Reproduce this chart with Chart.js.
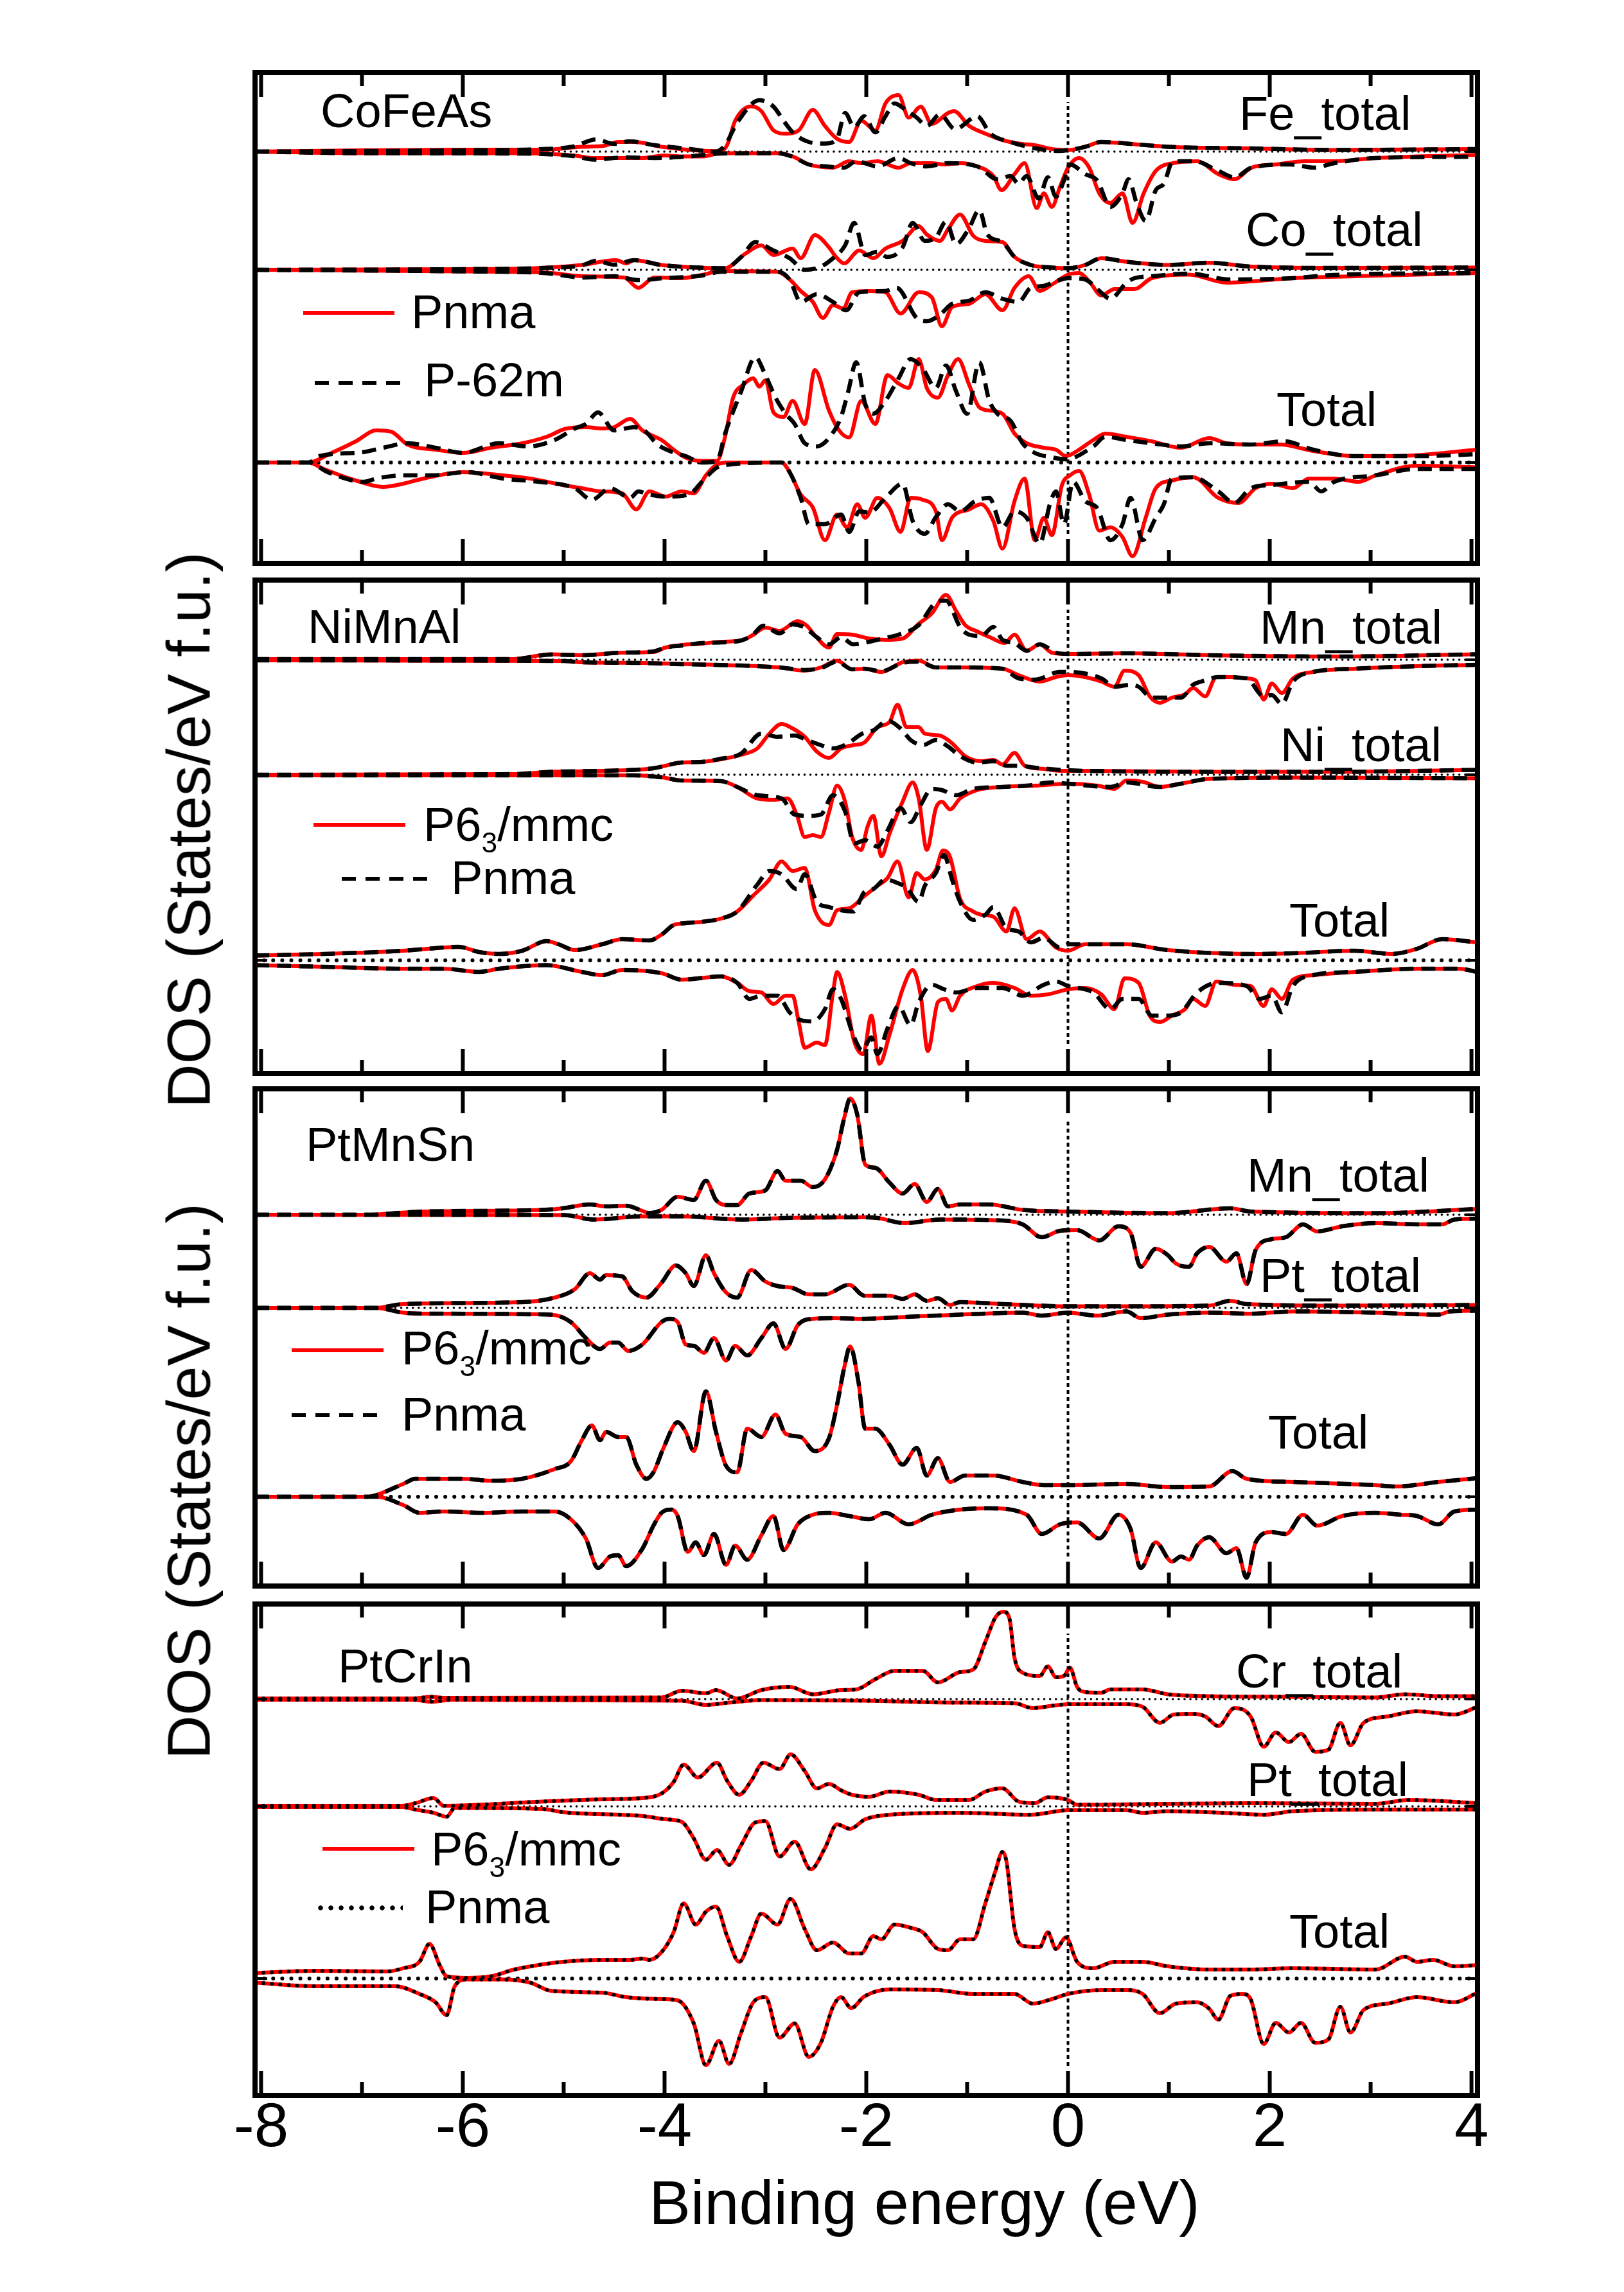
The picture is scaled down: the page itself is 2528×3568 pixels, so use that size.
<!DOCTYPE html>
<html>
<head>
<meta charset="utf-8">
<script src="https://cdn.jsdelivr.net/npm/chart.js@4.4.1/dist/chart.umd.min.js"></script>
<style>
  html, body { margin: 0; padding: 0; background: #fff; }
  body { position: relative; width: 2528px; height: 3568px; overflow: hidden;
         font-family: "Liberation Sans", Arial, sans-serif; color: #000; }
  .box { position: absolute; }
  .txt { position: absolute; font-size: 74px; line-height: 1; white-space: nowrap; }
  .txt sub { font-size: 0.6em; vertical-align: baseline; position: relative; top: 0.4em; }
  .smp { position: absolute; height: 6px; }
  .red { background: #ff0000; }
  .dash { background: repeating-linear-gradient(90deg, #000 0 22px, transparent 22px 37px); }
  .dots { height: 8px; background: radial-gradient(circle, #000 3.4px, transparent 4px) 0 0 / 16px 8px repeat-x; }
  .big { position: absolute; font-size: 96px; line-height: 1; white-space: nowrap; }
  .ytitle { transform: translate(-50%, -50%) rotate(-90deg); }
</style>
</head>
<body>

<!-- panel 1 -->
<div class="txt" style="left:499px;top:136px">CoFeAs</div>
<div class="txt" style="left:1929px;top:140px">Fe_total</div>
<div class="txt" style="left:1939px;top:321px">Co_total</div>
<div class="txt" style="left:1987px;top:601px">Total</div>
<div class="smp red" style="left:472px;top:484px;width:142px"></div>
<div class="txt" style="left:640px;top:449px">Pnma</div>
<div class="smp dash" style="left:490px;top:593px;width:141px"></div>
<div class="txt" style="left:660px;top:555px">P-62m</div>

<!-- panel 2 -->
<div class="txt" style="left:479px;top:939px">NiMnAl</div>
<div class="txt" style="left:1961px;top:940px">Mn_total</div>
<div class="txt" style="left:1993px;top:1123px">Ni_total</div>
<div class="txt" style="left:2007px;top:1396px">Total</div>
<div class="smp red" style="left:488px;top:1281px;width:143px"></div>
<div class="txt" style="left:659px;top:1247px">P6<sub>3</sub>/mmc</div>
<div class="smp dash" style="left:532px;top:1365px;width:136px"></div>
<div class="txt" style="left:702px;top:1330px">Pnma</div>

<!-- panel 3 -->
<div class="txt" style="left:476px;top:1745px">PtMnSn</div>
<div class="txt" style="left:1941px;top:1793px">Mn_total</div>
<div class="txt" style="left:1961px;top:1949px">Pt_total</div>
<div class="txt" style="left:1974px;top:2193px">Total</div>
<div class="smp red" style="left:454px;top:2099px;width:143px"></div>
<div class="txt" style="left:625px;top:2062px">P6<sub>3</sub>/mmc</div>
<div class="smp dash" style="left:454px;top:2200px;width:139px"></div>
<div class="txt" style="left:625px;top:2165px">Pnma</div>

<!-- panel 4 -->
<div class="txt" style="left:526px;top:2557px">PtCrIn</div>
<div class="txt" style="left:1924px;top:2565px">Cr_total</div>
<div class="txt" style="left:1941px;top:2734px">Pt_total</div>
<div class="txt" style="left:2007px;top:2970px">Total</div>
<div class="smp red" style="left:502px;top:2875px;width:143px"></div>
<div class="txt" style="left:671px;top:2842px">P6<sub>3</sub>/mmc</div>
<div class="smp dots" style="left:491px;top:2966px;width:136px"></div>
<div class="txt" style="left:662px;top:2932px">Pnma</div>

<!-- axis titles -->
<div class="big ytitle" style="left:294px;top:1292px;font-size:95px">DOS (States/eV f.u.)</div>
<div class="big ytitle" style="left:294px;top:2306px;font-size:95px">DOS (States/eV f.u.)</div>
<div class="big" style="left:1439px;top:3380px;font-size:97px;transform:translateX(-50%)">Binding energy (eV)</div>

<script>
// ---------------------------------------------------------------
// Energy axis
// ---------------------------------------------------------------
const xMin = -8.06;
const xMax = 4.06;
const majorTicks = [-8, -6, -4, -2, 0, 2, 4];
const minorTicks = [-7, -5, -3, -1, 1, 3];

// DOS curves: [energy (eV), DOS] pairs, spin-down stored as magnitude

// ---- CoFeAs : red = Pnma, black = P-62m ----
const feUpPnma = [[-8.06,0],[-7,0.2],[-6,0.3],[-5.2,0.3],[-4.82,0.75],[-4.6,0.9],[-4.46,1.5],[-4.3,1.5],[-4.03,0.75],[-3.7,0.2],[-3.45,0.05],[-3.38,1.0],[-3.30,4.8],[-3.14,7.05],[-3.04,6.3],[-2.92,3.3],[-2.80,2.8],[-2.67,3.3],[-2.53,6.5],[-2.41,4.0],[-2.29,2.0],[-2.17,1.5],[-2.05,4.8],[-1.91,3.3],[-1.81,7.5],[-1.68,8.8],[-1.58,5.3],[-1.46,7.0],[-1.35,4.3],[-1.19,6.0],[-1.13,6.3],[-0.98,4.0],[-0.82,2.8],[-0.65,1.8],[-0.49,1.25],[-0.33,1.0],[-0.16,0.4],[0,0.25],[0.17,0.75],[0.33,1.5],[0.58,1.25],[0.99,0.75],[1.81,0.5],[2.64,0.25],[4.06,0.4]];
const feDnPnma = [[-8.06,0],[-7,0.25],[-5.5,0.25],[-4.9,0.6],[-4.70,1.0],[-4.22,1.0],[-4.0,0.6],[-3.83,0.75],[-3.63,0.75],[-3.44,0.25],[-2.88,0.25],[-2.73,0.75],[-2.57,2.0],[-2.33,2.5],[-2.17,1.5],[-2.05,1.8],[-1.89,1.5],[-1.68,2.5],[-1.56,1.8],[-1.35,1.8],[-1.23,2.0],[-1.07,1.8],[-0.90,2.3],[-0.74,3.8],[-0.66,6.0],[-0.53,3.5],[-0.43,1.8],[-0.31,8.8],[-0.24,6.5],[-0.16,8.6],[-0.08,5.5],[0,2.5],[0.11,1.0],[0.21,2.5],[0.31,6.5],[0.42,8.0],[0.54,6.5],[0.64,11.1],[0.75,6.5],[0.87,3.0],[1.04,1.8],[1.28,1.5],[1.49,3.5],[1.65,4.3],[1.82,2.5],[2.06,2.0],[2.35,1.5],[2.64,1.5],[3.05,1.0],[4.06,0.5]];
const feUpP62m = [[-8.06,0],[-6,0.2],[-5.2,0.4],[-4.9,0.8],[-4.68,1.9],[-4.5,1.2],[-4.35,1.6],[-4.1,1.0],[-3.8,0.5],[-3.5,0.0],[-3.40,1.0],[-3.28,4.5],[-3.06,8.0],[-2.92,7.0],[-2.82,4.8],[-2.73,3.0],[-2.57,1.5],[-2.41,1.25],[-2.29,2.0],[-2.21,6.0],[-2.12,3.8],[-2.02,5.5],[-1.91,3.0],[-1.81,5.5],[-1.72,7.5],[-1.61,6.5],[-1.5,5.3],[-1.40,4.0],[-1.27,5.8],[-1.12,3.5],[-0.9,5.5],[-0.77,2.8],[-0.57,1.5],[-0.32,0.5],[-0.1,0.1],[0.17,0.75],[0.33,1.5],[0.58,1.25],[0.99,0.75],[1.81,0.5],[2.64,0.25],[4.06,0.4]];
const feDnP62m = [[-8.06,0],[-7,0.25],[-5.5,0.3],[-4.9,0.7],[-4.70,1.25],[-4.4,0.9],[-4.1,1.0],[-3.8,0.8],[-3.44,0.3],[-2.88,0.25],[-2.73,0.8],[-2.57,2.0],[-2.4,2.3],[-2.22,2.5],[-2.10,1.5],[-1.89,2.3],[-1.68,1.0],[-1.56,1.8],[-1.40,2.3],[-1.19,1.8],[-0.90,2.3],[-0.70,4.3],[-0.57,3.8],[-0.49,5.0],[-0.41,3.8],[-0.29,7.3],[-0.2,4.0],[-0.12,7.0],[-0.04,4.5],[0.02,2.0],[0.17,3.5],[0.29,4.5],[0.42,8.6],[0.54,6.5],[0.60,4.3],[0.68,8.0],[0.77,10.8],[0.87,6.0],[0.95,5.0],[1.04,1.5],[1.25,1.5],[1.49,3.0],[1.65,4.0],[1.82,2.5],[2.2,2.0],[2.44,2.5],[2.64,1.8],[3.05,1.0],[4.06,0.8]];

const coUpPnma = [[-8.06,0],[-6,0.1],[-5.2,0.3],[-4.82,0.75],[-4.48,1.5],[-4.38,1.0],[-4.30,1.5],[-4.03,0.75],[-3.6,0.3],[-3.40,0.25],[-3.2,2.5],[-3.04,3.8],[-2.92,2.3],[-2.73,3.3],[-2.65,1.8],[-2.51,5.4],[-2.37,3.5],[-2.30,2.0],[-2.22,1.0],[-2.07,3.0],[-1.93,1.8],[-1.81,3.3],[-1.64,4.5],[-1.48,6.8],[-1.40,5.5],[-1.27,4.5],[-1.19,6.3],[-1.07,8.6],[-0.94,5.3],[-0.82,4.5],[-0.65,4.3],[-0.53,2.0],[-0.37,0.75],[-0.16,0.35],[0,0.25],[0.17,0.75],[0.33,1.8],[0.58,1.25],[0.99,0.75],[1.40,1.1],[1.81,0.5],[2.64,0.3],[4.06,0.35]];
const coDnPnma = [[-8.06,0],[-6,0.25],[-5.2,0.4],[-4.8,1.0],[-4.4,1.2],[-4.26,2.8],[-4.1,1.2],[-3.83,1.3],[-3.63,0.8],[-3.44,0.2],[-2.88,0.3],[-2.76,1.5],[-2.65,3.3],[-2.53,5.0],[-2.43,7.5],[-2.33,5.5],[-2.23,6.0],[-2.14,3.5],[-1.97,3.3],[-1.81,3.5],[-1.66,6.8],[-1.48,3.5],[-1.35,4.3],[-1.25,8.8],[-1.15,5.8],[-0.98,5.3],[-0.82,3.8],[-0.65,6.3],[-0.53,2.8],[-0.39,1.0],[-0.28,3.3],[-0.16,2.3],[0,0.75],[0.11,0.5],[0.21,1.8],[0.33,4.0],[0.46,3.0],[0.66,3.0],[0.83,1.3],[1.2,0.75],[1.57,2.0],[1.81,1.8],[2.23,1.3],[2.84,1.0],[4.06,0.5]];
const coUpP62m = [[-8.06,0],[-6,0.1],[-5.2,0.3],[-4.82,0.7],[-4.68,1.4],[-4.5,0.8],[-4.30,1.5],[-4.03,0.75],[-3.6,0.3],[-3.40,0.25],[-3.24,2.0],[-3.10,4.3],[-2.92,3.0],[-2.76,1.8],[-2.61,0],[-2.45,0.5],[-2.33,1.8],[-2.21,3.8],[-2.12,7.3],[-2.01,2.3],[-1.89,2.8],[-1.79,2.0],[-1.64,3.5],[-1.54,7.3],[-1.42,4.5],[-1.31,5.0],[-1.21,7.5],[-1.11,4.0],[-0.98,6.5],[-0.88,9.3],[-0.80,5.5],[-0.65,4.3],[-0.53,2.0],[-0.37,0.75],[-0.16,0.35],[0,0.25],[0.17,0.75],[0.33,1.8],[0.58,1.25],[0.99,0.75],[1.40,1.1],[1.81,0.5],[2.64,0.3],[4.06,0.35]];
const coDnP62m = [[-8.06,0],[-6,0.25],[-5.2,0.5],[-4.8,1.2],[-4.5,1.0],[-4.26,1.6],[-4.0,1.3],[-3.63,0.9],[-3.44,0.3],[-2.88,0.3],[-2.76,1.5],[-2.65,5.0],[-2.49,3.8],[-2.33,5.0],[-2.2,6.3],[-2.07,3.5],[-1.81,3.3],[-1.70,2.8],[-1.50,7.5],[-1.40,8.0],[-1.27,7.0],[-1.15,5.3],[-0.98,4.8],[-0.82,3.5],[-0.65,4.5],[-0.49,5.0],[-0.37,2.8],[-0.24,2.5],[-0.12,1.8],[0,1.3],[0.17,1.5],[0.29,3.0],[0.42,4.5],[0.58,2.0],[0.66,1.3],[0.83,1.0],[1.2,0.6],[1.61,1.5],[2.23,1.3],[2.64,0.8],[4.06,0.5]];

const cfaTotUpPnma = [[-8.06,0],[-7.53,0],[-7.3,1.5],[-7.06,3.3],[-6.86,5.0],[-6.71,4.8],[-6.55,2.8],[-6.27,2.0],[-6.0,1.5],[-5.72,2.3],[-5.41,3.0],[-5.17,4.0],[-4.97,5.3],[-4.78,5.5],[-4.62,5.3],[-4.50,5.5],[-4.34,6.8],[-4.22,5.0],[-4.03,3.5],[-3.91,2.0],[-3.79,0.75],[-3.63,0.25],[-3.48,0.25],[-3.40,4.0],[-3.32,10.1],[-3.22,12.1],[-3.12,13.1],[-3.06,11.8],[-3.0,12.8],[-2.92,7.8],[-2.82,7.1],[-2.73,9.6],[-2.61,6.0],[-2.51,14.4],[-2.37,8.1],[-2.27,5.0],[-2.17,3.9],[-2.05,9.6],[-1.91,6.0],[-1.79,13.6],[-1.68,12.3],[-1.58,11.6],[-1.48,16.1],[-1.40,11.6],[-1.29,10.1],[-1.19,13.6],[-1.09,16.1],[-0.98,12.1],[-0.88,8.6],[-0.78,8.1],[-0.65,7.6],[-0.53,4.5],[-0.41,3.0],[-0.24,2.3],[-0.12,2.0],[-0.02,1.0],[0.09,1.8],[0.25,3.5],[0.37,4.5],[0.58,4.0],[0.83,3.3],[1.12,2.3],[1.40,3.8],[1.57,3.0],[1.81,2.8],[2.10,2.8],[2.43,1.8],[2.84,1.0],[3.26,1.0],[4.06,2.0]];
const cfaTotDnPnma = [[-8.06,0],[-7.53,0],[-7.38,1.0],[-7.06,2.8],[-6.79,3.8],[-6.59,3.3],[-6.39,2.5],[-6.0,1.5],[-5.60,2.0],[-5.33,2.5],[-5.01,3.5],[-4.82,4.0],[-4.62,4.5],[-4.42,4.8],[-4.28,7.3],[-4.15,4.5],[-3.99,5.3],[-3.83,4.5],[-3.71,4.8],[-3.59,2.0],[-3.48,0.3],[-3.36,0],[-2.84,0],[-2.76,1.5],[-2.65,5.0],[-2.53,7.0],[-2.41,12.1],[-2.29,8.1],[-2.19,10.1],[-2.09,6.5],[-2.01,8.6],[-1.89,5.5],[-1.77,7.1],[-1.66,10.8],[-1.56,5.5],[-1.44,5.8],[-1.31,7.6],[-1.25,12.1],[-1.15,8.6],[-0.98,7.3],[-0.86,6.5],[-0.74,9.1],[-0.65,13.4],[-0.53,6.0],[-0.43,2.5],[-0.33,12.1],[-0.24,8.6],[-0.16,11.3],[-0.06,3.5],[0.02,2.0],[0.11,1.3],[0.21,5.0],[0.31,10.6],[0.42,10.1],[0.54,11.6],[0.64,14.6],[0.77,8.6],[0.87,4.0],[1.03,2.8],[1.24,2.3],[1.49,5.5],[1.69,6.3],[1.86,4.0],[2.02,3.3],[2.23,4.0],[2.39,2.5],[2.64,2.5],[2.88,3.0],[3.05,2.0],[3.46,0.5],[4.06,0.75]];
const cfaTotUpP62m = [[-8.06,0],[-7.53,0],[-7.42,1.0],[-7.0,1.6],[-6.79,2.3],[-6.55,3.0],[-6.27,2.3],[-6.0,1.5],[-5.64,3.0],[-5.35,2.5],[-5.09,3.5],[-4.89,5.3],[-4.78,6.0],[-4.66,7.8],[-4.50,5.0],[-4.30,5.5],[-4.2,5.0],[-4.07,2.8],[-3.95,1.8],[-3.79,1.0],[-3.63,0],[-3.48,0.25],[-3.40,4.5],[-3.24,11.1],[-3.10,16.4],[-3.0,13.6],[-2.90,10.1],[-2.80,7.6],[-2.71,6.0],[-2.61,3.0],[-2.49,2.5],[-2.37,3.8],[-2.25,7.1],[-2.18,11.0],[-2.10,15.6],[-2.01,9.1],[-1.93,7.6],[-1.81,9.6],[-1.68,13.1],[-1.56,16.1],[-1.44,14.6],[-1.31,11.6],[-1.21,15.1],[-1.11,11.1],[-1.00,7.6],[-0.88,15.6],[-0.78,9.6],[-0.70,7.6],[-0.57,6.5],[-0.45,3.0],[-0.33,1.5],[-0.16,0.8],[-0.02,0.5],[0.25,2.5],[0.37,4.0],[0.58,3.5],[0.83,3.0],[1.12,2.5],[1.40,3.0],[1.81,2.8],[2.14,3.3],[2.43,2.0],[2.84,1.0],[3.5,1.0],[4.06,1.3]];
const cfaTotDnP62m = [[-8.06,0],[-7.53,0],[-7.34,1.5],[-6.98,3.0],[-6.86,2.5],[-6.59,2.0],[-6.31,2.0],[-5.96,1.5],[-5.60,2.5],[-5.25,3.0],[-4.89,4.0],[-4.72,5.8],[-4.54,4.0],[-4.34,5.5],[-4.26,4.5],[-4.15,5.0],[-3.99,5.3],[-3.76,5.0],[-3.63,3.0],[-3.50,1.0],[-3.44,0.5],[-2.84,0],[-2.76,1.5],[-2.65,5.5],[-2.57,9.6],[-2.41,9.6],[-2.25,8.1],[-2.17,10.8],[-2.07,7.6],[-1.97,7.8],[-1.81,5.5],[-1.64,3.3],[-1.54,9.1],[-1.42,11.1],[-1.31,8.5],[-1.19,6.5],[-1.07,7.6],[-0.92,6.0],[-0.78,5.5],[-0.65,10.1],[-0.53,7.6],[-0.41,8.6],[-0.28,12.6],[-0.18,6.5],[-0.12,4.5],[-0.04,9.6],[0.05,3.0],[0.17,6.0],[0.29,7.1],[0.42,12.1],[0.54,9.6],[0.62,5.5],[0.74,12.1],[0.87,8.6],[0.95,6.5],[1.03,2.5],[1.24,2.3],[1.49,4.5],[1.65,6.3],[1.81,4.0],[2.02,3.5],[2.39,3.0],[2.51,4.5],[2.64,3.0],[3.05,2.0],[3.46,1.0],[4.06,1.0]];

// ---- NiMnAl : red = P6_3/mmc, black = Pnma ----
const mnUpP63 = [[-8.06,0.1],[-5.5,0.1],[-5.13,0.85],[-4.82,0.7],[-4.42,1.1],[-4.11,1.2],[-3.99,1.9],[-3.83,2.3],[-3.63,2.5],[-3.44,2.8],[-3.24,3.0],[-3.13,3.8],[-3.0,5.0],[-2.86,4.5],[-2.68,6.0],[-2.59,5.3],[-2.51,3.8],[-2.37,1.9],[-2.29,4.0],[-2.14,3.9],[-1.97,3.3],[-1.81,3.1],[-1.64,3.3],[-1.48,5.6],[-1.35,7.2],[-1.21,10.1],[-1.11,7.6],[-1.02,5.4],[-0.9,4.4],[-0.76,3.4],[-0.63,2.6],[-0.53,3.9],[-0.41,1.4],[-0.28,2.4],[-0.16,1.1],[0,0.9],[0.58,1.0],[1.40,0.7],[2.64,0.5],[4.06,0.85]];
const mnDnP63 = [[-8.06,0.1],[-5,0.2],[-4.82,0.4],[-4.22,0.5],[-3.83,0.65],[-3.24,0.9],[-2.86,1.2],[-2.61,1.7],[-2.45,1.2],[-2.29,0.15],[-2.14,1.5],[-2.02,1.4],[-1.85,1.9],[-1.64,0.4],[-1.48,0.15],[-1.31,1.2],[-1.07,1.2],[-0.65,1.4],[-0.49,2.4],[-0.28,3.4],[-0.12,2.7],[0,2.4],[0.17,2.7],[0.33,3.4],[0.46,4.2],[0.56,1.7],[0.70,2.4],[0.81,5.7],[0.91,6.7],[1.03,5.9],[1.16,5.4],[1.24,4.4],[1.36,5.7],[1.47,2.7],[1.61,2.7],[1.77,2.9],[1.86,3.2],[1.94,6.2],[2.02,3.7],[2.12,5.2],[2.23,2.9],[2.43,1.9],[2.84,1.4],[3.46,1.0],[4.06,0.8]];
const mnUpPnma = [[-8.06,0.1],[-5.5,0.1],[-5.13,0.8],[-4.82,0.7],[-4.42,1.1],[-4.11,1.3],[-3.99,1.9],[-3.83,2.2],[-3.63,2.6],[-3.44,2.7],[-3.24,3.0],[-3.13,3.8],[-3.02,5.3],[-2.86,4.1],[-2.73,5.5],[-2.61,5.0],[-2.49,3.5],[-2.37,2.4],[-2.25,3.5],[-2.13,2.4],[-1.97,2.8],[-1.84,3.3],[-1.68,3.9],[-1.48,5.4],[-1.31,8.9],[-1.21,9.2],[-1.07,5.1],[-0.98,3.9],[-0.86,3.7],[-0.74,5.1],[-0.65,3.1],[-0.53,2.6],[-0.41,1.4],[-0.28,2.4],[-0.12,1.1],[0,0.9],[0.58,1.0],[1.40,0.7],[2.64,0.5],[4.06,0.85]];
const mnDnPnma = [[-8.06,0.1],[-5,0.2],[-4.82,0.4],[-4.22,0.5],[-3.83,0.7],[-3.24,0.9],[-2.86,1.2],[-2.61,1.6],[-2.45,1.3],[-2.29,0.3],[-2.14,1.5],[-2.02,1.4],[-1.85,1.8],[-1.64,0.5],[-1.48,0.3],[-1.31,1.2],[-1.07,1.2],[-0.65,1.4],[-0.49,2.9],[-0.33,3.1],[-0.08,1.9],[0,1.9],[0.33,2.9],[0.46,4.2],[0.62,3.9],[0.70,4.2],[0.83,5.9],[0.95,5.9],[1.12,5.9],[1.24,3.9],[1.32,3.4],[1.49,2.7],[1.77,2.9],[1.94,5.7],[2.02,5.5],[2.12,6.9],[2.23,3.4],[2.43,1.9],[2.84,1.4],[3.46,1.0],[4.06,0.8]];

const niUpP63 = [[-8.06,0],[-5.5,0.1],[-5.13,0.45],[-4.62,0.6],[-4.11,1.0],[-3.83,1.9],[-3.63,2.0],[-3.44,2.4],[-3.24,3.1],[-3.08,4.1],[-2.96,6.4],[-2.84,7.9],[-2.73,7.2],[-2.61,5.9],[-2.49,3.6],[-2.37,2.6],[-2.25,4.1],[-2.13,4.6],[-2.02,5.0],[-1.89,7.4],[-1.77,8.2],[-1.69,10.9],[-1.60,7.4],[-1.48,7.4],[-1.42,6.4],[-1.27,6.1],[-1.15,4.9],[-1.02,2.9],[-0.86,2.1],[-0.74,2.3],[-0.65,1.6],[-0.53,3.4],[-0.43,1.4],[-0.24,0.9],[-0.08,0.6],[0.17,0.6],[1.40,0.45],[2.64,0.45],[4.06,0.75]];
const niDnP63 = [[-8.06,0.1],[-4.3,0.1],[-4.03,0.4],[-3.83,0.9],[-3.44,1.0],[-3.28,1.9],[-3.08,3.7],[-2.92,3.9],[-2.78,3.7],[-2.69,6.2],[-2.61,9.7],[-2.53,9.4],[-2.45,9.7],[-2.37,5.9],[-2.29,1.7],[-2.21,4.2],[-2.14,9.7],[-2.05,11.7],[-1.99,8.2],[-1.93,6.4],[-1.85,12.7],[-1.77,9.2],[-1.64,4.2],[-1.54,1.2],[-1.48,3.7],[-1.40,11.7],[-1.31,5.2],[-1.25,4.2],[-1.17,5.4],[-1.07,3.7],[-0.9,2.4],[-0.65,1.9],[-0.33,1.7],[0,1.4],[0.29,1.7],[0.46,2.2],[0.58,0.9],[0.74,1.1],[0.91,1.9],[1.12,1.4],[1.40,0.65],[2.23,0.45],[4.06,0.55]];
const niUpPnma = [[-8.06,0],[-5.5,0.1],[-5.13,0.45],[-4.62,0.6],[-4.11,1.0],[-3.83,1.9],[-3.63,2.0],[-3.44,2.5],[-3.24,3.3],[-3.04,6.4],[-2.88,5.9],[-2.71,6.1],[-2.59,5.4],[-2.45,4.6],[-2.33,4.1],[-2.19,4.8],[-2.04,6.4],[-1.93,6.9],[-1.79,8.4],[-1.66,7.2],[-1.56,5.4],[-1.44,4.6],[-1.31,5.4],[-1.19,4.4],[-1.07,2.9],[-0.9,1.9],[-0.74,2.1],[-0.61,1.4],[-0.49,1.4],[-0.33,1.1],[-0.16,0.85],[0.17,0.6],[1.40,0.45],[2.64,0.45],[4.06,0.75]];
const niDnPnma = [[-8.06,0.1],[-4.3,0.1],[-4.03,0.4],[-3.83,0.9],[-3.44,1.0],[-3.28,1.9],[-3.08,3.2],[-2.84,3.7],[-2.71,6.2],[-2.57,6.4],[-2.45,6.2],[-2.33,3.2],[-2.21,5.7],[-2.12,10.7],[-2.01,10.2],[-1.89,11.2],[-1.79,8.7],[-1.66,5.2],[-1.56,7.4],[-1.46,4.7],[-1.35,2.2],[-1.25,2.4],[-1.11,3.2],[-0.94,2.2],[-0.65,1.9],[-0.41,1.7],[-0.16,1.2],[0,1.4],[0.42,1.9],[0.58,1.2],[0.91,1.9],[1.12,1.4],[1.40,0.65],[2.23,0.45],[4.06,0.55]];

const nmaTotUpP63 = [[-8.06,0.75],[-7.38,1.0],[-6.59,1.5],[-6.19,2.0],[-6.04,2.1],[-5.84,1.3],[-5.64,1.0],[-5.41,1.5],[-5.17,3.0],[-5.05,2.5],[-4.89,1.6],[-4.62,2.5],[-4.42,3.3],[-4.15,3.1],[-4.03,4.0],[-3.91,5.5],[-3.79,5.8],[-3.63,6.0],[-3.44,6.5],[-3.28,7.6],[-3.12,10.1],[-2.96,12.6],[-2.84,15.4],[-2.73,13.9],[-2.61,14.4],[-2.51,7.8],[-2.37,5.5],[-2.29,7.8],[-2.17,8.1],[-2.02,10.0],[-1.89,11.6],[-1.79,12.8],[-1.69,15.4],[-1.58,9.8],[-1.50,13.6],[-1.42,12.6],[-1.31,14.1],[-1.24,17.1],[-1.17,16.1],[-1.07,9.6],[-0.94,7.6],[-0.86,7.1],[-0.74,6.8],[-0.61,4.5],[-0.53,8.1],[-0.41,3.3],[-0.28,4.5],[-0.12,2.0],[0,1.5],[0.17,2.5],[0.58,2.5],[0.99,1.6],[1.81,1.0],[2.23,1.1],[2.84,1.5],[3.21,1.0],[3.46,1.8],[3.71,3.3],[4.06,2.8]];
const nmaTotDnP63 = [[-8.06,0.75],[-7.38,1.0],[-6.59,1.3],[-6.19,1.3],[-5.84,1.8],[-5.64,1.3],[-5.17,0.75],[-4.82,1.8],[-4.62,2.3],[-4.42,1.5],[-4.03,2.0],[-3.83,3.0],[-3.44,2.5],[-3.28,3.5],[-3.16,4.8],[-3.04,5.0],[-2.92,6.8],[-2.80,5.5],[-2.73,5.5],[-2.67,9.6],[-2.61,13.6],[-2.49,12.8],[-2.41,13.2],[-2.33,5.0],[-2.29,1.8],[-2.21,5.5],[-2.12,12.6],[-2.03,14.6],[-1.95,8.6],[-1.87,16.1],[-1.77,11.6],[-1.64,4.5],[-1.54,1.5],[-1.46,5.5],[-1.39,14.1],[-1.29,6.5],[-1.21,6.0],[-1.15,7.8],[-1.07,5.5],[-0.9,4.0],[-0.74,3.5],[-0.53,4.3],[-0.37,5.5],[-0.2,5.3],[0,4.5],[0.17,4.3],[0.33,5.3],[0.46,7.6],[0.56,2.8],[0.70,3.5],[0.81,8.6],[0.91,9.6],[1.03,8.6],[1.16,7.6],[1.24,6.0],[1.36,7.1],[1.47,3.3],[1.65,3.8],[1.81,4.0],[1.94,7.1],[2.02,4.5],[2.12,6.0],[2.23,3.0],[2.43,2.3],[2.84,1.8],[3.46,1.3],[3.87,1.3],[4.06,1.8]];
const nmaTotUpPnma = [[-8.06,0.75],[-7.38,1.0],[-6.59,1.5],[-6.19,2.0],[-6.04,2.1],[-5.84,1.3],[-5.64,1.0],[-5.41,1.5],[-5.17,3.0],[-5.05,2.5],[-4.89,1.6],[-4.62,2.5],[-4.42,3.3],[-4.15,3.1],[-4.03,4.0],[-3.91,5.5],[-3.79,5.8],[-3.63,6.0],[-3.44,6.5],[-3.28,7.6],[-3.08,11.8],[-2.96,13.9],[-2.84,13.4],[-2.69,11.1],[-2.61,13.4],[-2.49,9.1],[-2.37,8.3],[-2.25,7.8],[-2.13,7.6],[-2.02,10.6],[-1.93,11.1],[-1.81,12.6],[-1.70,12.1],[-1.60,11.3],[-1.48,9.1],[-1.42,11.6],[-1.31,13.6],[-1.23,16.4],[-1.15,12.6],[-1.07,9.1],[-0.94,6.3],[-0.82,7.1],[-0.74,8.3],[-0.61,5.0],[-0.49,4.5],[-0.37,2.8],[-0.24,3.5],[-0.08,2.0],[0,2.5],[0.17,2.5],[0.58,2.5],[0.99,1.6],[1.81,1.0],[2.23,1.1],[2.84,1.5],[3.21,1.0],[3.46,1.8],[3.71,3.3],[4.06,2.8]];
const nmaTotDnPnma = [[-8.06,0.75],[-7.38,1.0],[-6.59,1.3],[-6.19,1.3],[-5.84,1.8],[-5.64,1.3],[-5.17,0.75],[-4.82,1.8],[-4.62,2.3],[-4.42,1.5],[-4.03,2.0],[-3.83,3.0],[-3.44,2.5],[-3.28,3.5],[-3.16,6.0],[-3.04,5.5],[-2.88,5.5],[-2.76,8.1],[-2.65,9.3],[-2.53,9.5],[-2.41,7.6],[-2.33,4.5],[-2.25,6.0],[-2.13,11.6],[-2.04,14.0],[-1.95,12.0],[-1.89,14.6],[-1.79,10.6],[-1.68,7.1],[-1.56,10.1],[-1.48,6.5],[-1.35,3.8],[-1.23,4.5],[-1.11,5.0],[-0.9,4.3],[-0.65,4.3],[-0.45,5.5],[-0.24,3.8],[-0.12,3.3],[0,4.0],[0.25,5.0],[0.42,7.6],[0.54,6.0],[0.70,6.0],[0.83,8.6],[0.99,8.6],[1.12,8.1],[1.28,5.0],[1.49,3.5],[1.77,4.0],[1.9,6.0],[2.02,5.5],[2.12,8.1],[2.23,4.0],[2.43,2.3],[2.84,1.8],[3.46,1.3],[3.87,1.3],[4.06,1.8]];

// ---- PtMnSn : both structures coincide ----
const pmsMnUp = [[-8.06,0],[-6.9,0],[-6.67,0.25],[-6.39,0.5],[-5.21,0.75],[-5.01,1.0],[-4.74,1.6],[-4.58,1.3],[-4.38,1.4],[-4.22,0.6],[-4.15,0.25],[-4.03,0.75],[-3.87,2.8],[-3.71,2.3],[-3.59,5.3],[-3.49,2.3],[-3.39,1.5],[-3.28,1.5],[-3.16,3.3],[-3.0,3.8],[-2.88,6.8],[-2.80,5.3],[-2.65,5.3],[-2.53,4.3],[-2.41,5.5],[-2.29,10.1],[-2.22,15.0],[-2.16,18.1],[-2.09,15.6],[-2.01,7.8],[-1.91,7.3],[-1.77,5.0],[-1.64,3.3],[-1.52,4.8],[-1.40,2.0],[-1.29,4.0],[-1.19,1.3],[-1.07,1.6],[-0.78,1.6],[-0.45,0.75],[0,0.5],[0.99,0.25],[1.61,1.0],[1.81,0.5],[3.05,0.25],[4.06,0.9]];
const pmsMnDn = [[-8.06,0],[-5,0.05],[-4.70,0.75],[-4.22,0.25],[-3.83,0.25],[-3.24,0.75],[-2.80,0.5],[-2.02,0.4],[-1.89,0.5],[-1.62,1.3],[-1.27,0.75],[-0.65,0.9],[-0.45,1.5],[-0.26,3.5],[-0.08,2.5],[0.09,2.4],[0.31,4.0],[0.50,1.8],[0.62,2.8],[0.72,8.1],[0.87,5.3],[0.99,6.3],[1.07,7.6],[1.20,8.1],[1.28,6.0],[1.40,5.0],[1.57,7.3],[1.67,6.0],[1.77,10.8],[1.86,5.5],[2.02,3.8],[2.16,3.5],[2.33,1.5],[2.47,2.6],[2.72,1.8],[3.05,1.3],[3.46,1.5],[3.71,1.5],[3.83,0.75],[4.06,0.6]];
const pmsPtUp = [[-8.06,0],[-6.86,0],[-6.59,0.6],[-5.41,0.9],[-5.09,1.6],[-4.89,2.9],[-4.74,5.4],[-4.64,4.4],[-4.58,5.1],[-4.42,4.9],[-4.32,2.6],[-4.18,1.6],[-4.03,3.9],[-3.89,6.6],[-3.79,5.4],[-3.71,3.4],[-3.59,8.2],[-3.51,5.4],[-3.39,2.4],[-3.28,1.6],[-3.14,5.9],[-3.0,4.1],[-2.88,3.4],[-2.73,3.1],[-2.57,2.1],[-2.41,2.1],[-2.17,3.6],[-2.02,1.9],[-1.77,1.9],[-1.64,1.4],[-1.52,2.1],[-1.40,1.1],[-1.29,1.5],[-1.17,0.45],[-1.07,0.9],[-0.65,0.6],[0,0.25],[0.58,0.25],[1.40,0.35],[1.61,1.1],[1.77,0.6],[2.64,0.35],[4.06,0.45]];
const pmsPtDn = [[-8.06,0],[-6.86,0],[-6.59,0.75],[-6.39,0.9],[-5.13,1.05],[-4.93,2.2],[-4.78,4.7],[-4.64,6.4],[-4.54,5.4],[-4.46,5.4],[-4.36,6.7],[-4.22,5.7],[-4.03,2.2],[-3.95,1.7],[-3.87,2.2],[-3.79,5.7],[-3.71,5.9],[-3.61,7.0],[-3.51,4.7],[-3.39,8.2],[-3.30,5.9],[-3.18,7.4],[-3.04,4.7],[-2.92,2.4],[-2.80,6.4],[-2.68,2.7],[-2.53,1.7],[-2.33,1.6],[-2.02,1.7],[-1.60,1.4],[-1.07,1.05],[-0.45,0.75],[-0.26,1.2],[0,0.75],[0.29,1.2],[0.58,0.55],[0.72,1.6],[0.99,1.05],[1.40,0.75],[1.81,0.9],[2.23,0.55],[3.05,0.75],[3.67,1.05],[3.79,0.55],[4.06,0.45]];
const pmsTotUp = [[-8.06,0],[-6.94,0],[-6.86,0.25],[-6.59,2.0],[-6.47,2.8],[-6.0,2.8],[-5.72,2.5],[-5.41,2.8],[-5.09,4.3],[-4.93,5.5],[-4.82,8.8],[-4.72,11.1],[-4.64,8.8],[-4.58,10.1],[-4.46,9.3],[-4.38,9.3],[-4.28,5.0],[-4.18,2.8],[-4.11,3.8],[-4.01,7.6],[-3.87,11.6],[-3.79,10.1],[-3.71,7.1],[-3.59,16.4],[-3.49,10.1],[-3.39,4.8],[-3.28,3.8],[-3.18,10.6],[-3.04,9.3],[-2.90,12.8],[-2.80,9.8],[-2.65,9.3],[-2.51,7.1],[-2.37,9.1],[-2.29,14.3],[-2.22,20.0],[-2.16,23.4],[-2.08,18.1],[-2.01,10.6],[-1.91,10.6],[-1.77,8.1],[-1.64,5.0],[-1.50,7.6],[-1.40,3.3],[-1.29,6.0],[-1.17,2.3],[-1.02,3.3],[-0.74,3.3],[-0.45,2.3],[-0.24,1.8],[0,1.8],[0.58,2.0],[0.99,1.5],[1.40,1.6],[1.63,4.0],[1.77,2.8],[2.23,2.3],[3.05,1.8],[3.26,1.6],[3.67,2.3],[4.06,2.9]];
const pmsTotDn = [[-8.06,0],[-6.86,0],[-6.59,1.3],[-6.43,2.5],[-6.19,2.3],[-5.80,2.5],[-5.41,2.3],[-5.09,2.3],[-4.93,3.5],[-4.78,6.5],[-4.66,11.1],[-4.54,9.3],[-4.46,9.1],[-4.38,10.8],[-4.22,8.1],[-4.11,4.5],[-4.03,2.5],[-3.93,2.0],[-3.87,3.0],[-3.77,8.6],[-3.69,7.1],[-3.61,9.1],[-3.51,5.8],[-3.39,10.6],[-3.30,7.6],[-3.18,9.8],[-3.04,6.0],[-2.92,3.0],[-2.82,8.3],[-2.68,4.3],[-2.53,2.8],[-2.37,2.5],[-2.17,3.0],[-1.97,3.5],[-1.81,2.5],[-1.58,4.3],[-1.35,2.8],[-1.07,2.0],[-0.78,1.8],[-0.41,2.8],[-0.26,5.8],[-0.08,4.3],[0.09,4.0],[0.31,6.5],[0.50,2.8],[0.62,5.0],[0.72,11.1],[0.87,7.1],[1.03,10.1],[1.12,9.3],[1.20,9.8],[1.28,7.6],[1.40,6.3],[1.57,8.8],[1.67,8.0],[1.77,12.6],[1.86,7.1],[2.02,5.5],[2.16,5.8],[2.33,2.8],[2.47,4.5],[2.72,3.0],[3.05,2.5],[3.30,2.8],[3.46,3.0],[3.67,4.3],[3.83,2.3],[4.06,2.0]];

// ---- PtCrIn : both structures coincide ----
const pciCrUp = [[-8.06,0.1],[-6.5,0.1],[-6.31,0.35],[-6.19,0.2],[-4.03,0.25],[-3.83,1.3],[-3.59,0.9],[-3.49,1.4],[-3.28,0.1],[-3.04,1.4],[-2.76,1.9],[-2.53,0.75],[-2.25,1.4],[-2.10,1.5],[-1.91,3.1],[-1.72,4.4],[-1.44,4.4],[-1.29,2.6],[-1.07,4.2],[-0.94,4.6],[-0.82,8.9],[-0.72,12.7],[-0.64,13.6],[-0.58,12.5],[-0.53,6.4],[-0.45,4.1],[-0.28,3.6],[-0.20,5.1],[-0.12,3.4],[-0.04,3.6],[0.02,4.9],[0.09,1.9],[0.17,1.1],[0.33,1.0],[0.42,1.5],[0.74,1.5],[0.99,0.75],[1.40,0.45],[2.23,0.35],[3.05,0.25],[3.34,0.75],[3.67,0.45],[4.06,0.45]];
const pciCrDn = [[-8.06,0.1],[-6.5,0.1],[-6.31,0.4],[-6.1,0.1],[-3.83,0.25],[-3.59,0.9],[-3.36,0.55],[-3.04,0.15],[-2.02,0.25],[-1.07,0.55],[-0.53,0.65],[-0.35,1.4],[-0.16,1.05],[0,0.8],[0.58,0.8],[0.74,1.2],[0.91,3.7],[1.05,2.4],[1.24,2.3],[1.36,2.7],[1.49,4.2],[1.65,1.4],[1.81,2.7],[1.94,7.4],[2.06,5.2],[2.19,6.7],[2.31,5.4],[2.45,8.2],[2.58,7.9],[2.70,3.7],[2.80,7.2],[2.93,3.7],[3.17,2.7],[3.46,1.9],[3.83,2.4],[4.06,1.2]];
const pciPtUp = [[-8.06,0.1],[-6.6,0.1],[-6.47,0.5],[-6.29,1.3],[-6.19,0.1],[-5.21,0.75],[-4.62,1.1],[-4.22,1.3],[-4.03,2.0],[-3.91,3.8],[-3.81,6.5],[-3.67,4.5],[-3.48,6.8],[-3.38,4.0],[-3.26,1.8],[-3.14,4.0],[-3.02,6.8],[-2.86,5.8],[-2.75,8.1],[-2.61,5.5],[-2.49,2.8],[-2.37,3.5],[-2.25,2.5],[-2.14,1.8],[-1.97,1.5],[-1.77,2.3],[-1.48,1.8],[-1.31,1.0],[-0.98,1.0],[-0.82,2.3],[-0.65,2.8],[-0.49,0.75],[-0.33,0.5],[-0.20,1.4],[0,1.0],[0.09,0.25],[0.99,0.4],[1.81,0.5],[3.05,0.4],[3.38,1.0],[4.06,0.5]];
const pciPtDn = [[-8.06,0.1],[-6.6,0.1],[-6.47,0.5],[-6.29,1.0],[-6.16,1.6],[-6.08,0.25],[-5.21,0.4],[-5.01,0.9],[-4.22,1.5],[-3.99,2.0],[-3.83,2.4],[-3.71,5.0],[-3.59,8.3],[-3.48,6.8],[-3.36,9.1],[-3.24,6.0],[-3.10,2.5],[-3.0,2.3],[-2.86,7.8],[-2.71,5.5],[-2.55,9.8],[-2.41,6.5],[-2.29,2.8],[-2.16,3.5],[-2.01,2.0],[-1.77,1.3],[-1.07,1.0],[-0.37,1.3],[0,0.6],[0.58,0.6],[0.74,1.0],[0.99,0.75],[1.53,1.0],[1.94,1.3],[2.23,0.75],[3.05,0.5],[4.06,0.5]];
const pciTotUp = [[-8.06,0.85],[-7.46,1.2],[-6.75,1.1],[-6.59,1.6],[-6.43,2.6],[-6.33,5.4],[-6.23,2.1],[-6.16,0.35],[-5.96,0.1],[-5.72,0.35],[-5.49,1.4],[-5.25,2.1],[-5.01,2.6],[-4.62,2.9],[-4.34,2.9],[-4.22,3.1],[-4.15,2.9],[-4.03,4.1],[-3.91,7.2],[-3.81,11.7],[-3.69,8.4],[-3.59,10.4],[-3.49,11.2],[-3.38,6.6],[-3.26,2.6],[-3.14,6.6],[-3.04,10.1],[-2.88,8.4],[-2.75,12.4],[-2.61,7.7],[-2.49,4.4],[-2.33,5.6],[-2.17,3.9],[-2.05,3.9],[-1.93,6.6],[-1.85,6.1],[-1.72,8.4],[-1.56,7.9],[-1.44,7.2],[-1.29,4.6],[-1.19,4.4],[-1.07,6.1],[-0.94,6.1],[-0.82,11.7],[-0.72,16.7],[-0.65,19.7],[-0.61,18.2],[-0.53,7.7],[-0.45,5.1],[-0.28,4.9],[-0.20,7.2],[-0.12,4.6],[-0.02,6.4],[0.09,2.6],[0.25,1.6],[0.46,2.6],[0.74,2.6],[0.99,1.9],[1.40,1.4],[1.81,1.4],[2.23,1.6],[3.05,1.4],[3.34,3.4],[3.46,2.6],[3.62,2.9],[3.83,1.9],[4.06,2.1]];
const pciTotDn = [[-8.06,0.65],[-7.46,1.2],[-6.67,1.2],[-6.43,2.4],[-6.27,3.7],[-6.16,5.7],[-6.08,1.2],[-5.96,0.15],[-5.60,0.15],[-5.33,0.65],[-5.13,1.9],[-4.62,2.2],[-4.38,2.9],[-4.03,3.2],[-3.87,3.4],[-3.71,7.0],[-3.59,13.5],[-3.46,9.7],[-3.36,13.3],[-3.24,8.4],[-3.12,3.7],[-3.0,2.9],[-2.86,9.2],[-2.71,7.0],[-2.57,12.2],[-2.45,10.0],[-2.33,4.4],[-2.25,2.9],[-2.15,4.6],[-2.02,2.8],[-1.77,1.7],[-1.29,1.8],[-0.94,2.4],[-0.53,2.4],[-0.35,3.9],[-0.16,3.2],[0,2.4],[0.33,1.8],[0.58,1.8],[0.74,2.4],[0.91,5.4],[1.07,3.9],[1.28,3.7],[1.40,4.7],[1.49,6.4],[1.61,2.7],[1.73,2.4],[1.81,3.2],[1.94,10.2],[2.06,6.9],[2.19,8.4],[2.31,6.9],[2.45,10.0],[2.58,9.5],[2.70,4.4],[2.80,8.4],[2.93,4.9],[3.17,3.9],[3.46,2.9],[3.83,3.7],[4.06,2.2]];

// ---------------------------------------------------------------
// Panels (top/bottom = frame position on the page, offsets = zero lines)
// ---------------------------------------------------------------
const frameLeft = 397, frameRight = 2300;
const panels = [
  { top: 113, bottom: 877, offsets: [64.1, 45.7, 15.7], black: 'dash',
    red:   [[feUpPnma, feDnPnma], [coUpPnma, coDnPnma], [cfaTotUpPnma, cfaTotDnPnma]],
    other: [[feUpP62m, feDnP62m], [coUpP62m, coDnP62m], [cfaTotUpP62m, cfaTotDnP62m]] },
  { top: 903, bottom: 1671, offsets: [64.4, 46.5, 17.6], black: 'dash',
    red:   [[mnUpP63, mnDnP63], [niUpP63, niDnP63], [nmaTotUpP63, nmaTotDnP63]],
    other: [[mnUpPnma, mnDnPnma], [niUpPnma, niDnPnma], [nmaTotUpPnma, nmaTotDnPnma]] },
  { top: 1695, bottom: 2469, offsets: [57.8, 43.3, 13.9], black: 'dash',
    red:   [[pmsMnUp, pmsMnDn], [pmsPtUp, pmsPtDn], [pmsTotUp, pmsTotDn]],
    other: [[pmsMnUp, pmsMnDn], [pmsPtUp, pmsPtDn], [pmsTotUp, pmsTotDn]] },
  { top: 2497, bottom: 3262, offsets: [61.7, 45.0, 18.2], black: 'dot',
    red:   [[pciCrUp, pciCrDn], [pciPtUp, pciPtDn], [pciTotUp, pciTotDn]],
    other: [[pciCrUp, pciCrDn], [pciPtUp, pciPtDn], [pciTotUp, pciTotDn]] },
];

const FONT = "'Liberation Sans', Arial, sans-serif";

function toPoints(pairs, base, sign) {
  return pairs.map(p => ({ x: p[0], y: base + sign * p[1] }));
}

// frame + inward ticks, Origin style
const framePlugin = {
  id: 'frame',
  afterDraw(chart, args, opts) {
    const { ctx, chartArea: a, scales: { x, y } } = chart;
    ctx.save();
    ctx.strokeStyle = '#000';
    ctx.lineCap = 'butt';
    ctx.lineWidth = 6;
    ctx.beginPath();
    majorTicks.forEach(v => {
      const px = x.getPixelForValue(v);
      ctx.moveTo(px, a.top); ctx.lineTo(px, a.top + 38);
      ctx.moveTo(px, a.bottom); ctx.lineTo(px, a.bottom - 38);
    });
    minorTicks.forEach(v => {
      const px = x.getPixelForValue(v);
      ctx.moveTo(px, a.top); ctx.lineTo(px, a.top + 21);
      ctx.moveTo(px, a.bottom); ctx.lineTo(px, a.bottom - 21);
    });
    ctx.stroke();
    ctx.lineWidth = 4;
    ctx.beginPath();
    opts.levels.forEach(v => {
      const py = y.getPixelForValue(v);
      ctx.moveTo(a.left, py); ctx.lineTo(a.left + 19, py);
      ctx.moveTo(a.right, py); ctx.lineTo(a.right - 19, py);
    });
    ctx.stroke();
    ctx.lineWidth = 8;
    ctx.strokeRect(a.left, a.top, a.right - a.left, a.bottom - a.top);
    ctx.restore();
  }
};

panels.forEach((cfg, idx) => {
  const isLast = idx === panels.length - 1;
  const padX = 60, padY = 10;
  const axisH = isLast ? 130 : 0;
  const yMax = (cfg.bottom - cfg.top) / 10;

  const wrap = document.createElement('div');
  wrap.className = 'box';
  wrap.style.left = (frameLeft - padX) + 'px';
  wrap.style.top = (cfg.top - padY) + 'px';
  wrap.style.width = (frameRight - frameLeft + 2 * padX) + 'px';
  wrap.style.height = (cfg.bottom - cfg.top + 2 * padY + axisH) + 'px';
  const canvas = document.createElement('canvas');
  wrap.appendChild(canvas);
  document.body.insertBefore(wrap, document.body.firstChild);

  const datasets = [];

  // Fermi level
  datasets.push({
    data: [{ x: 0, y: 4.6 }, { x: 0, y: yMax - 4.6 }],
    borderColor: '#000', borderWidth: 4, borderDash: [6, 5], order: 4
  });

  // zero lines
  cfg.offsets.forEach((off, k) => {
    const isTotal = k === cfg.offsets.length - 1;
    datasets.push({
      data: [{ x: xMin, y: off }, { x: xMax, y: off }],
      borderColor: '#000',
      borderWidth: isTotal ? 6 : 3.5,
      borderDash: isTotal ? [0.1, 14] : [0.1, 9],
      borderCapStyle: 'round',
      order: 3
    });
  });

  // red: first structure
  cfg.red.forEach((pair, k) => {
    const off = cfg.offsets[k];
    [[pair[0], 1], [pair[1], -1]].forEach(([arr, s]) => {
      datasets.push({
        data: toPoints(arr, off, s),
        borderColor: '#ff0000', borderWidth: 6, order: 2
      });
    });
  });

  // black: second structure
  cfg.other.forEach((pair, k) => {
    const off = cfg.offsets[k];
    [[pair[0], 1], [pair[1], -1]].forEach(([arr, s]) => {
      const ds = {
        data: toPoints(arr, off, s),
        borderColor: '#000', order: 1
      };
      if (cfg.black === 'dot') {
        ds.borderWidth = 6;
        ds.borderDash = [0.1, 13];
        ds.borderCapStyle = 'round';
      } else {
        ds.borderWidth = 6.5;
        ds.borderDash = [22, 12];
      }
      datasets.push(ds);
    });
  });

  new Chart(canvas, {
    type: 'line',
    data: { datasets: datasets },
    options: {
      responsive: true,
      maintainAspectRatio: false,
      devicePixelRatio: 1,
      animation: false,
      events: [],
      layout: { padding: { left: padX, right: padX, top: padY, bottom: padY } },
      elements: {
        point: { radius: 0 },
        line: { fill: false, cubicInterpolationMode: 'monotone', borderJoinStyle: 'round' }
      },
      plugins: {
        legend: { display: false },
        tooltip: { enabled: false },
        frame: { levels: cfg.offsets }
      },
      scales: {
        x: {
          type: 'linear',
          min: xMin,
          max: xMax,
          display: isLast,
          grid: { display: false, drawTicks: false },
          border: { display: false },
          afterBuildTicks: s => { s.ticks = majorTicks.map(v => ({ value: v })); },
          afterFit: s => { if (isLast) s.height = axisH; },
          ticks: {
            autoSkip: false,
            maxRotation: 0,
            padding: -5,
            color: '#000',
            font: { family: FONT, size: 96 }
          }
        },
        y: { type: 'linear', display: false, min: 0, max: yMax }
      }
    },
    plugins: [framePlugin]
  });
});
</script>
</body>
</html>
